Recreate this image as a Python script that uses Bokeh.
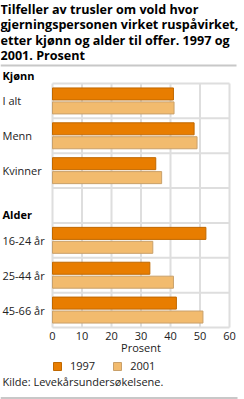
from bokeh.plotting import figure
from bokeh.models import Range1d, Legend, LegendItem, ColumnDataSource
from bokeh.core.properties import value
from bokeh.embed import file_html
from bokeh.resources import INLINE

# ---- data ----
title_lines = ["Tilfeller av trusler om vold hvor",
               "gjerningspersonen virket ruspåvirket,",
               "etter kjønn og alder til offer. 1997 og",
               "2001. Prosent"]
groups = ["Kjønn", "Alder"]
categories = ["I alt", "Menn", "Kvinner", "", "16-24 år", "25-44 år", "45-66 år"]
values_1997 = [41.0, 48.0, 35.0, None, 52.0, 33.0, 42.0]
values_2001 = [41.2, 49.0, 37.0, None, 34.0, 41.0, 51.0]
series = ["1997", "2001"]
x_ticks = [0, 10, 20, 30, 40, 50, 60]
x_label = "Prosent"
source_text = "Kilde: Levekårsundersøkelsene."

# ---- layout constants (pixels) ----
W, H = 244, 399
FL, FR, FT, FB = 52, 229, 83, 327
NB = len(categories)
XMAX = 60

def dx(px):
    return (px - FL) / (FR - FL) * XMAX

def dy(py):
    return (FB - py) / (FB - FT) * NB

FONT = "Open Sans"
C1997 = "#e87d00"
C2001 = "#f2bb6e"
GRID = "#dedede"
TXT = "#222222"

p = figure(width=W, height=H, output_backend="svg", toolbar_location=None,
           x_range=Range1d(dx(0), dx(W)), y_range=Range1d(dy(H), dy(0)),
           x_axis_location=None, y_axis_location=None, min_border=0)
p.outline_line_color = None
p.grid.visible = False
p.background_fill_color = "white"
p.border_fill_color = "white"

# grid lines (vertical at ticks, horizontal at band boundaries)
p.segment(x0=x_ticks, y0=[0] * len(x_ticks), x1=x_ticks, y1=[NB] * len(x_ticks),
          line_color=GRID, line_width=2)
bounds = list(range(NB + 1))
p.segment(x0=[0] * len(bounds), y0=bounds, x1=[XMAX] * len(bounds), y1=bounds,
          line_color=GRID, line_width=2)

# bars
centers = [NB - 0.5 - i for i in range(NB)]
idx = [i for i, v in enumerate(values_1997) if v is not None]
s1 = ColumnDataSource(dict(y=[centers[i] + 0.2 for i in idx], r=[values_1997[i] for i in idx]))
s2 = ColumnDataSource(dict(y=[centers[i] - 0.2 for i in idx], r=[values_2001[i] for i in idx]))
r1 = p.hbar(y="y", right="r", left=0, height=0.345, source=s1,
            fill_color=C1997, line_color="#c06800", line_width=1)
r2 = p.hbar(y="y", right="r", left=0, height=0.345, source=s2,
            fill_color=C2001, line_color="#c9a06a", line_width=1)

# x tick labels and axis label
p.text(x=x_ticks, y=[dy(335)] * len(x_ticks), text=[str(t) for t in x_ticks],
       text_font=value(FONT), text_font_size="11px", text_align="center",
       text_baseline="middle", text_color=TXT)
p.text(x=[XMAX / 2], y=[dy(347)], text=[x_label], text_font=value(FONT),
       text_font_size="11px", text_align="center", text_baseline="middle",
       text_color=TXT)

# category labels
lab_i = [i for i, c in enumerate(categories) if c]
p.text(x=[dx(2)] * len(lab_i), y=[centers[i] for i in lab_i],
       text=[categories[i] for i in lab_i], text_font=value(FONT),
       text_font_size="11px", text_baseline="middle", text_color=TXT)
# group headers
p.text(x=[dx(2)] * 2, y=[dy(75), dy(214)], text=groups, text_font=value(FONT),
       text_font_size="11px", text_font_style="bold", text_baseline="middle",
       text_color="#000000")

# title
p.text(x=[dx(0)] * len(title_lines), y=[dy(v) for v in [8.5, 24, 39.5, 55]],
       text=title_lines, text_font=value(FONT), text_font_size="12.6px",
       text_font_style="bold", text_baseline="middle", text_color="#000000")

# source
p.text(x=[dx(2)], y=[dy(381)], text=[source_text], text_font=value(FONT),
       text_font_size="11px", text_baseline="middle", text_color=TXT)

# rules
p.segment(x0=[dx(0), dx(0)], y0=[dy(65), dy(397.5)], x1=[dx(236), dx(237)],
          y1=[dy(65), dy(397.5)], line_color="#c8c8c8", line_width=2)

# legend
leg = Legend(items=[LegendItem(label=series[0], renderers=[r1]),
                    LegendItem(label=series[1], renderers=[r2])],
             orientation="horizontal", location=(FL, 26),
             glyph_width=10, glyph_height=10, label_height=10,
             label_standoff=8, spacing=17, padding=0, margin=0,
             border_line_color=None, background_fill_alpha=0,
             label_text_font=FONT, label_text_font_size="11px",
             label_text_color=TXT)
p.add_layout(leg, "center")

open("out.html", "w").write(file_html(p, INLINE))
